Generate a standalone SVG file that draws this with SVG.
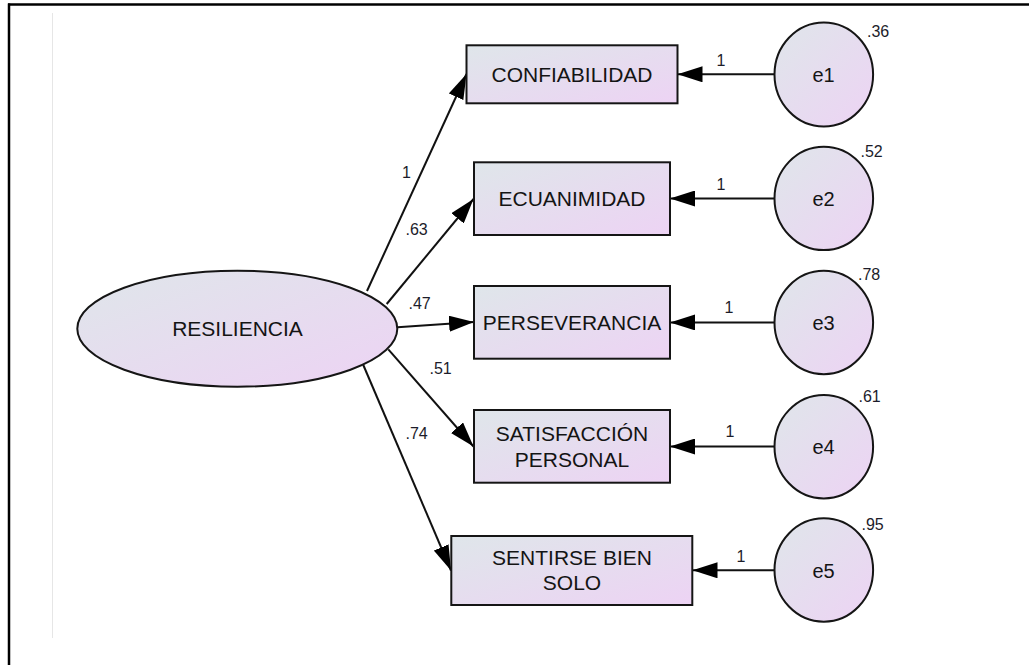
<svg xmlns="http://www.w3.org/2000/svg" width="1029" height="665" viewBox="0 0 1029 665">
<style>
.node{stroke:#151515;stroke-width:2;fill:url(#g)}
.nt{font-family:"Liberation Sans",Arial,sans-serif;font-size:21px;fill:#141414;text-anchor:middle}
.et{font-family:"Liberation Sans",Arial,sans-serif;font-size:20px;fill:#141414;text-anchor:middle}
.lb{font-family:"Liberation Sans",Arial,sans-serif;font-size:16px;fill:#1c1c2a}
.c{stroke:#111;stroke-width:2;fill:none;marker-end:url(#ah)}
</style>
<defs>
<linearGradient id="g" x1="0" y1="0" x2="1" y2="1">
<stop offset="0" stop-color="#dfe6ea"/>
<stop offset="1" stop-color="#edd3f4"/>
</linearGradient>
<marker id="ah" markerUnits="userSpaceOnUse" markerWidth="26" markerHeight="16" refX="25" refY="8" orient="auto">
<path d="M0,0 L25,8 L0,16 Z" fill="#000"/>
</marker>
</defs>
<rect width="1029" height="665" fill="#fff"/>
<g id="frame">
<line x1="8" y1="4.5" x2="1029" y2="4.5" stroke="#000" stroke-width="2.5"/>
<line x1="9" y1="3.5" x2="9" y2="665" stroke="#000" stroke-width="2.5"/>
<line x1="52.5" y1="13" x2="52.5" y2="638" stroke="#e6e6e6" stroke-width="1"/>
</g>
<g id="connectors">
<line class="c" x1="367" y1="291" x2="466.5" y2="74"/>
<line class="c" x1="386.7" y1="304" x2="473.5" y2="199"/>
<line class="c" x1="397.5" y1="327.3" x2="474" y2="322"/>
<line class="c" x1="388.3" y1="349.3" x2="473.5" y2="446.5"/>
<line class="c" x1="363.3" y1="365" x2="451" y2="570.5"/>
<line class="c" x1="775" y1="74.3" x2="677.5" y2="74.3"/>
<line class="c" x1="775" y1="198.5" x2="670" y2="198.5"/>
<line class="c" x1="775" y1="322.4" x2="670" y2="322.4"/>
<line class="c" x1="775" y1="446.5" x2="670" y2="446.5"/>
<line class="c" x1="775" y1="570.3" x2="692.5" y2="570.3"/>
<text class="lb" x="402" y="178">1</text>
<text class="lb" x="405.5" y="235">.63</text>
<text class="lb" x="408.5" y="309">.47</text>
<text class="lb" x="429.5" y="374">.51</text>
<text class="lb" x="405.5" y="439">.74</text>
<text class="lb" x="716.5" y="66">1</text>
<text class="lb" x="716.5" y="190">1</text>
<text class="lb" x="724.5" y="313">1</text>
<text class="lb" x="725.5" y="437">1</text>
<text class="lb" x="736.5" y="562">1</text>
</g>
<g id="RESILIENCIA">
<ellipse class="node" cx="237.3" cy="328.7" rx="160" ry="58"/>
<text class="nt" x="237.5" y="336">RESILIENCIA</text>
</g>
<g id="CONFIABILIDAD">
<rect class="node" x="466.5" y="45.3" width="211" height="58"/>
<text class="nt" x="572" y="81.8">CONFIABILIDAD</text>
</g>
<g id="ECUANIMIDAD">
<rect class="node" x="474" y="162.3" width="196" height="72.7"/>
<text class="nt" x="572" y="206">ECUANIMIDAD</text>
</g>
<g id="PERSEVERANCIA">
<rect class="node" x="474" y="286" width="196" height="72.7"/>
<text class="nt" x="572" y="329.8">PERSEVERANCIA</text>
</g>
<g id="SATISFACCION">
<rect class="node" x="474" y="410" width="196" height="72.7"/>
<text class="nt" x="572" y="440.7">SATISFACCIÓN</text>
<text class="nt" x="572" y="466.7">PERSONAL</text>
</g>
<g id="SENTIRSE">
<rect class="node" x="451.3" y="536" width="241" height="69"/>
<text class="nt" x="572" y="565">SENTIRSE BIEN</text>
<text class="nt" x="572" y="590">SOLO</text>
</g>
<g id="e1">
<ellipse class="node" cx="823.8" cy="74.5" rx="49.3" ry="52"/>
<text class="et" x="823.5" y="82.3">e1</text>
<text class="lb" x="867" y="37">.36</text>
</g>
<g id="e2">
<ellipse class="node" cx="823.8" cy="198.4" rx="49.3" ry="51.7"/>
<text class="et" x="823.5" y="206">e2</text>
<text class="lb" x="860.5" y="157">.52</text>
</g>
<g id="e3">
<ellipse class="node" cx="823.8" cy="322.5" rx="49.3" ry="51.7"/>
<text class="et" x="823.5" y="330">e3</text>
<text class="lb" x="858" y="280">.78</text>
</g>
<g id="e4">
<ellipse class="node" cx="823.8" cy="446.7" rx="49.3" ry="51.7"/>
<text class="et" x="823.5" y="454.2">e4</text>
<text class="lb" x="858.5" y="402">.61</text>
</g>
<g id="e5">
<ellipse class="node" cx="823.8" cy="570" rx="49.3" ry="51.7"/>
<text class="et" x="823.5" y="577.5">e5</text>
<text class="lb" x="861.5" y="530">.95</text>
</g>
</svg>
